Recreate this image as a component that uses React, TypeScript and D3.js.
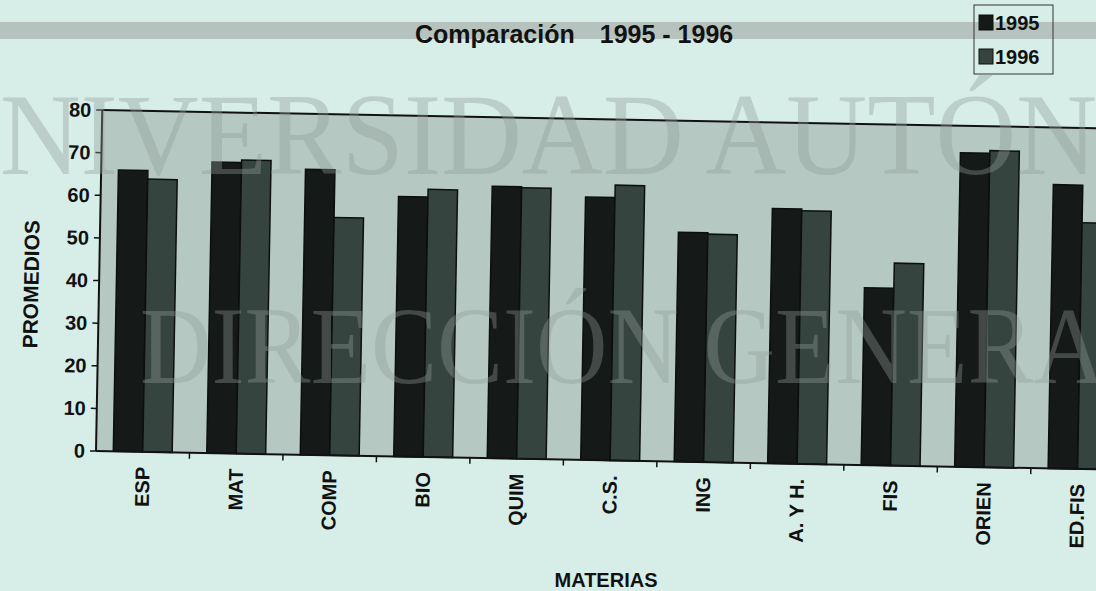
import React from "react";
import { scaleBand, scaleLinear } from "d3";

const categories = ["ESP", "MAT", "COMP", "BIO", "QUIM", "C.S.", "ING", "A. Y H.", "FIS", "ORIEN", "ED.FIS"];
const seriesNames = ["1995", "1996"];
const values1995 = [66, 68.3, 67, 61, 63.8, 61.7, 53.8, 59.8, 41.6, 73.7, 66.6];
const values1996 = [64, 68.9, 55.8, 62.8, 63.6, 64.6, 53.5, 59.4, 47.5, 74.3, 57.8];
const yTicks = [0, 10, 20, 30, 40, 50, 60, 70, 80];

const colors = { "1995": "#151918", "1996": "#36443f" };

const App = () => {
	const width = 1096;
	const height = 591;
	const left = 96;
	const top = 110;
	const bottom = 451;
	const step = 93.5;
	const right = left + categories.length * step;
	const font = "'Liberation Sans', Arial, sans-serif";

	const x0 = scaleBand()
		.domain(categories)
		.range([left, right])
		.paddingInner(0.37)
		.paddingOuter(0.185);
	const x1 = scaleBand().domain(seriesNames).range([0, x0.bandwidth()]);
	const y = scaleLinear().domain([0, 80]).range([bottom, top]);

	const rows = categories.map((c, i) => ({
		cat: c,
		vals: [
			{ key: "1995", v: values1995[i] },
			{ key: "1996", v: values1996[i] },
		],
	}));

	return (
		<svg width={width} height={height} style={{ position: "absolute", left: 0, top: 0 }} fontFamily={font}>
			<rect width={width} height={height} fill="#d7eee8" />
			<rect x={0} y={22} width={width} height={17} fill="#b6c2be" />

			{/* title */}
			<text x={415} y={43} fontSize={25} fontWeight="bold" fill="#111">
				<tspan>Comparación</tspan>
				<tspan dx={25}>1995 - 1996</tspan>
			</text>

			{/* legend */}
			<rect x={974} y={5} width={79} height={69} fill="none" stroke="#333" strokeWidth={1} />
			{seriesNames.map((s, i) => (
				<g key={s} transform={`translate(979, ${15 + i * 34})`}>
					<rect width={14} height={15} fill={colors[s]} stroke="#111" />
					<text x={16} y={15} fontSize={20} fontWeight="bold" fill="#111">
						{s}
					</text>
				</g>
			))}

			<g transform={`rotate(1.05 ${left} ${bottom})`}>
				<rect x={left} y={top} width={right - left} height={bottom - top} fill="#b6c8c2" />
				{rows.map((d) => (
					<g key={d.cat} transform={`translate(${x0(d.cat)}, 0)`}>
						{d.vals.map((b) => (
							<rect
								key={b.key}
								x={x1(b.key)}
								y={y(b.v)}
								width={x1.bandwidth()}
								height={y(0) - y(b.v)}
								fill={colors[b.key]}
								stroke="#0c0f0e"
								strokeWidth={1.5}
							/>
						))}
					</g>
				))}
				<line x1={left} x2={right} y1={top} y2={top} stroke="#111" strokeWidth={2} />
				<line x1={left} x2={left} y1={top} y2={bottom} stroke="#111" strokeWidth={2} />
				<line x1={left} x2={right} y1={bottom} y2={bottom} stroke="#111" strokeWidth={2} />
				{yTicks.map((t) => (
					<g key={t}>
						<line x1={left - 6} x2={left} y1={y(t)} y2={y(t)} stroke="#111" strokeWidth={1.5} />
						<text x={left - 11} y={y(t)} dy="0.35em" textAnchor="end" fontSize={20} fontWeight="bold" fill="#111">
							{t}
						</text>
					</g>
				))}
				{categories.map((c) => (
					<line
						key={c}
						x1={x0(c) - x0.step() * 0.185 + x0.step()}
						x2={x0(c) - x0.step() * 0.185 + x0.step()}
						y1={bottom}
						y2={bottom + 6}
						stroke="#111"
						strokeWidth={1.5}
					/>
				))}
				{categories.map((c) => {
					const cx = x0(c) + x0.bandwidth() / 2;
					return (
						<text
							key={c}
							transform={`translate(${cx}, ${bottom + 15}) rotate(-90)`}
							textAnchor="end"
							dy="0.35em"
							fontSize={20}
							fontWeight="bold"
							fill="#111"
						>
							{c}
						</text>
					);
				})}
				<text
					transform={`translate(28, ${(top + bottom) / 2 + 5}) rotate(-90)`}
					textAnchor="middle"
					dy="0.35em"
					fontSize={21}
					fontWeight="bold"
					fill="#111"
				>
					PROMEDIOS
				</text>
			</g>

			<text x={606} y={587} textAnchor="middle" fontSize={20} fontWeight="bold" fill="#111">
				MATERIAS
			</text>

			{/* sello de agua del escaneo */}
			<g fontFamily="'Liberation Serif', 'Times New Roman', serif" fill="#8f9a96" opacity={0.38} pointerEvents="none">
				<text x={-84} y={174} fontSize={116} transform="scale(0.965, 1)">
					UNIVERSIDAD AUTÓNOMA DE NUEVO LEÓN
				</text>
				<text x={140} y={383} fontSize={110} transform="translate(140, 0) scale(0.9, 1) translate(-140, 0)">
					DIRECCIÓN GENERAL DE BIBLIOTECAS
				</text>
			</g>
		</svg>
	);
};

export default App;
